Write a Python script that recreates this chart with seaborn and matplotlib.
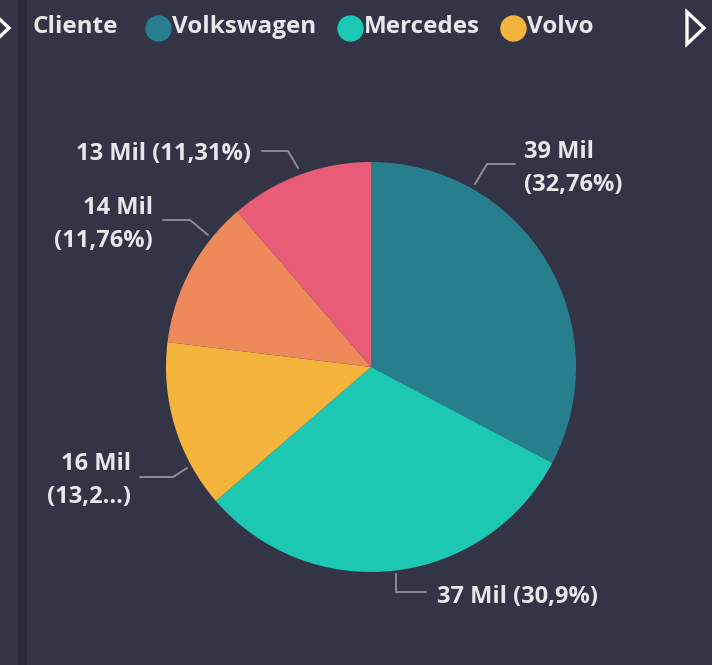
import numpy as np
import seaborn as sns
import matplotlib.pyplot as plt
from matplotlib.patches import Polygon, Rectangle

# Data (values in thousands)
clientes = ['Volkswagen', 'Mercedes', 'Volvo', 'Scania', 'DAF']
valores = [39.0, 36.8, 15.8, 14.0, 13.46]
rotulos = ['39 Mil\n(32,76%)', '37 Mil (30,9%)', '16 Mil\n(13,2...)',
           '14 Mil\n(11,76%)', '13 Mil (11,31%)']
cores = ['#277F8D', '#1CC8B2', '#F5B53C', '#EE8A5A', '#E85C77']

bg = '#333547'
txt = '#E8E8EC'
linha = '#8C8C96'

sns.set_theme(style='dark', rc={'figure.facecolor': bg, 'axes.facecolor': bg})
plt.rcParams['font.family'] = ['Open Sans', 'DejaVu Sans']

fig = plt.figure(figsize=(7.12, 6.65), dpi=100)
ax = fig.add_axes([0, 0, 1, 1])
palette = sns.color_palette(cores)

# pixel-like coords, y pointing down
ax.pie(valores, colors=palette, startangle=-90, counterclock=True,
       center=(371, 367), radius=205, wedgeprops={'linewidth': 0})
ax.set_xlim(0, 712)
ax.set_ylim(665, 0)
ax.axis('off')

# left side divider
ax.add_patch(Rectangle((18, 0), 9, 665, color='#2A2B3A', lw=0, zorder=0))

# leader lines + labels (placement)
leaders = [
    [(475, 184), (487, 164), (515, 164)],
    [(396, 574), (396, 592), (426, 592)],
    [(187, 468), (173, 477), (140, 477)],
    [(208, 235), (190, 220), (163, 220)],
    [(298, 168), (288, 151), (262, 151)],
]
textpos = [(524, 168, 'left'), (437, 597, 'left'), (131, 481, 'right'),
           (153, 224, 'right'), (251, 154, 'right')]
for pts, (x, y, ha), lab in zip(leaders, textpos, rotulos):
    xs, ys = zip(*pts)
    ax.plot(xs, ys, color=linha, lw=1.4)
    ax.text(x, y, lab, color=txt, fontsize=17, fontweight='bold',
            ha=ha, va='center', linespacing=1.5)

# legend (drawn by hand to sit inline with the title)
ax.text(33, 27, 'Cliente', color=txt, fontsize=17.5, fontweight='bold',
        va='center', ha='left')
leg_x = [158, 350, 513]
for x, c, nome in zip(leg_x, cores[:3], clientes[:3]):
    ax.plot([x], [28], marker='o', ms=19, color=c, mew=0)
    ax.text(x + 14, 27, nome, color=txt, fontsize=17.5, fontweight='bold',
            va='center', ha='left')

# navigation chevrons
ax.add_patch(Polygon([(687, 12), (704, 28), (687, 44)], closed=True,
                     facecolor=bg, edgecolor='white', lw=2.4))
ax.add_patch(Polygon([(-8, 12), (9, 28), (-8, 44)], closed=True,
                     facecolor=bg, edgecolor='white', lw=2.4))

fig.savefig('out.png', dpi=100, facecolor=bg)
